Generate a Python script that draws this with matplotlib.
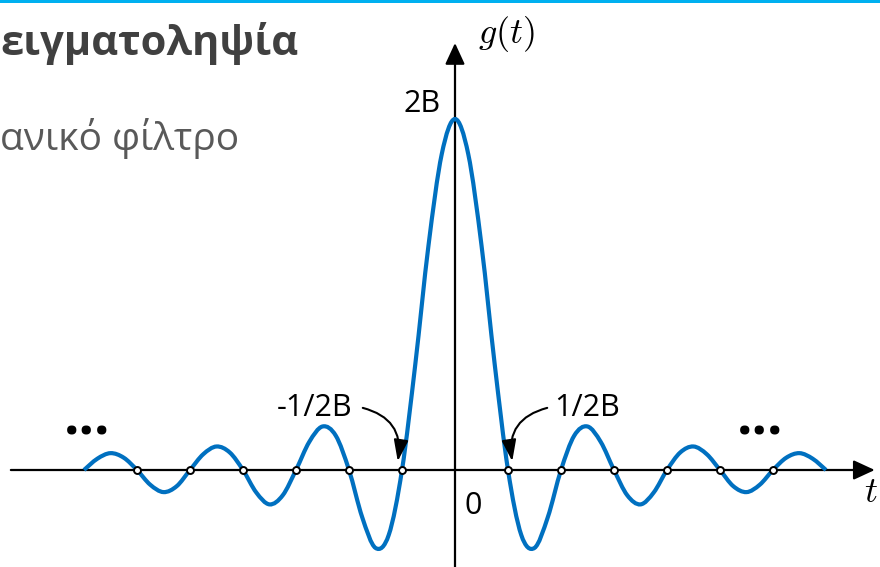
import numpy as np
import matplotlib
matplotlib.use("Agg")
import matplotlib.pyplot as plt
from matplotlib.path import Path
from matplotlib.patches import PathPatch, Rectangle

plt.rcParams["mathtext.fontset"] = "cm"

g_right = [1.0, 0.90, 0.64, 0.30, 0.0, -0.185, -0.222, -0.135, 0.0,
           0.098, 0.124, 0.080, 0.0, -0.072, -0.098, -0.064, 0.0,
           0.050, 0.067, 0.045, 0.0, -0.046, -0.063, -0.042, 0.0,
           0.035, 0.048, 0.032, 0.0]
g_left = [0.0, 0.032, 0.048, 0.035, 0.0, -0.042, -0.063, -0.046, 0.0,
          0.045, 0.067, 0.050, 0.0, -0.064, -0.098, -0.072, 0.0,
          0.080, 0.124, 0.098, 0.0, -0.135, -0.222, -0.185, 0.0,
          0.30, 0.64, 0.90]
g_vals = np.array(g_left + g_right)
t_vals = np.linspace(-7, 7, len(g_vals))

# sample instants (multiples of 1/2B) marked on the axis
zero_t = [-6, -5, -4, -3, -2, -1, 1, 2, 3, 4, 5, 6]

title = "ειγματοληψία"
subtitle = "ανικό φίλτρο"

BLUE = "#0070C0"
W, H = 880, 567


def smooth_path(x, y):
    # Catmull-Rom through the read points, as cubic bezier segments
    pts = np.column_stack([x, y])
    verts = [pts[0]]
    codes = [Path.MOVETO]
    n = len(pts)
    for i in range(n - 1):
        p0 = pts[max(i - 1, 0)]
        p1 = pts[i]
        p2 = pts[i + 1]
        p3 = pts[min(i + 2, n - 1)]
        verts += [p1 + (p2 - p0) / 6, p2 - (p3 - p1) / 6, p2]
        codes += [Path.CURVE4] * 3
    return Path(verts, codes)


fig = plt.figure(figsize=(W / 100, H / 100), dpi=100)
ax = fig.add_axes([0, 0, 1, 1])
# 1/2B = 53 px, 2B = 351 px, origin at (455, 470) px
ax.set_xlim(-455 / 53, (W - 455) / 53)
ax.set_ylim(-(H - 470) / 351, 470 / 351)
ax.axis("off")

# top slide bar
fig.add_artist(Rectangle((0, 1 - 3 / H), 1, 3 / H, transform=fig.transFigure,
                         color="#00B0F0", lw=0))

fig.text(0, 1 - 55 / H, title, fontsize=30, fontweight="bold",
         family="Open Sans", color="#404040", va="baseline")
fig.text(0, 1 - 150 / H, subtitle, fontsize=28, family="Open Sans",
         color="#595959", va="baseline")

# axes with arrows
axis_arrow = dict(arrowstyle="-|>,head_length=0.65,head_width=0.3",
                  mutation_scale=20, lw=1.6, color="black",
                  shrinkA=0, shrinkB=0)
ax.annotate("", xy=(7.92, 0), xytext=(-8.38, 0), arrowprops=axis_arrow)
ax.annotate("", xy=(0, 1.2165), xytext=(0, -0.3), arrowprops=axis_arrow)

ax.add_patch(PathPatch(smooth_path(t_vals, g_vals), fill=False,
                       edgecolor=BLUE, lw=3.0, capstyle="butt", zorder=3))

ax.plot(zero_t, np.zeros(len(zero_t)), "o", ms=5, mfc="white", mec="black",
        mew=1.4, zorder=4)

ax.text(0.43, 1.2165, "$g(t)$", fontsize=26, va="baseline")
ax.text(7.72, -0.091, "$t$", fontsize=26, va="baseline")
ax.text(-0.98, 1.02, "2B", fontsize=22, family="Open Sans", va="baseline")
ax.text(0.17, -0.125, "0", fontsize=22, family="Open Sans", va="baseline")

ax.text(-3.36, 0.155, "-1/2B", fontsize=22, family="Open Sans", va="baseline")
ax.text(1.88, 0.155, "1/2B", fontsize=22, family="Open Sans", va="baseline")

pointer = dict(arrowstyle="-|>,head_length=0.65,head_width=0.22",
               mutation_scale=20, lw=1.5, color="black",
               shrinkA=0, shrinkB=0)
ax.annotate("", xy=(-1.08, 0.025), xytext=(-1.74, 0.177),
            arrowprops=dict(pointer, connectionstyle="arc3,rad=-0.45"))
ax.annotate("", xy=(1.08, 0.025), xytext=(1.74, 0.177),
            arrowprops=dict(pointer, connectionstyle="arc3,rad=0.45"))

ax.text(-6.94, 0.14, "...", fontsize=39, fontweight="bold",
        family="Open Sans", ha="center", va="center")
ax.text(5.75, 0.14, "...", fontsize=39, fontweight="bold",
        family="Open Sans", ha="center", va="center")

fig.savefig("out.png", dpi=100)
